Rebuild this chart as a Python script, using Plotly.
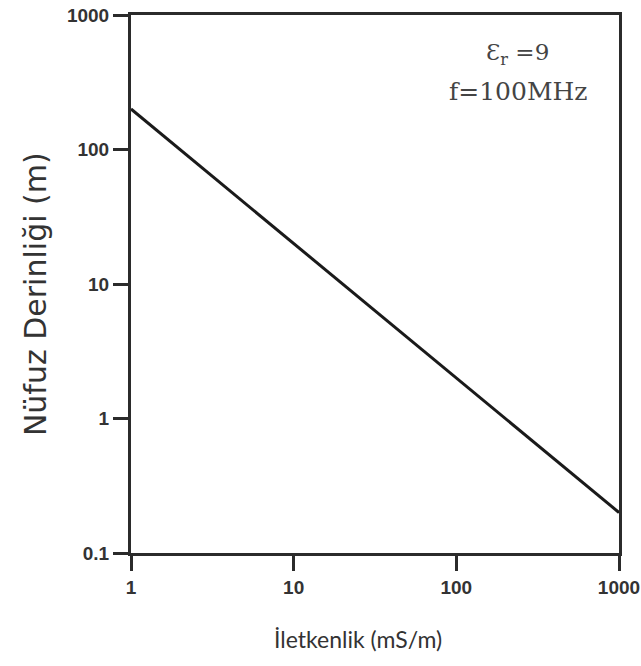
import plotly.graph_objects as go

# Skin depth vs. conductivity (eps_r = 9, f = 100 MHz)
conductivity = [1, 10, 100, 1000]          # mS/m
skin_depth = [200, 20, 2, 0.2]             # m

x_ticks = [1, 10, 100, 1000]
y_ticks = [0.1, 1, 10, 100, 1000]
y_tick_text = ["0.1", "1", "10", "100", "1000"]

axis_color = "#2b2b2b"
text_color = "#333333"
tick_font = dict(family="Liberation Sans", size=19, color="#333", weight="bold")

fig = go.Figure()
fig.add_trace(go.Scatter(
    x=conductivity, y=skin_depth, mode="lines",
    line=dict(color="#1a1a1a", width=3), showlegend=False,
))

common = dict(
    type="log", ticks="outside", ticklen=15, tickwidth=3, tickcolor=axis_color,
    showline=True, linewidth=3, linecolor=axis_color, mirror=True,
    showgrid=False, zeroline=False, tickfont=tick_font, automargin=False,
)
fig.update_xaxes(range=[0, 3], tickvals=x_ticks,
                 ticktext=[str(v) for v in x_ticks], **common)
fig.update_yaxes(range=[-1, 3], tickvals=y_ticks,
                 ticktext=y_tick_text, **common)

# axis titles
fig.add_annotation(
    x=0.466, y=0, xref="paper", yref="paper", yshift=-86,
    text="İletkenlik (mS/m)", showarrow=False,
    font=dict(family="Lato", size=23, color=text_color),
    xanchor="center", yanchor="middle",
)
fig.add_annotation(
    x=-0.197, y=0.481, xref="paper", yref="paper",
    text="Nüfuz Derinliği (m)", showarrow=False, textangle=-90,
    font=dict(family="DejaVu Sans", size=30, color=text_color),
    xanchor="center", yanchor="middle",
)

# parameter labels
fig.add_annotation(
    x=0.793, y=1, xref="paper", yref="paper", yshift=-39,
    text="Ɛ<sub>r</sub> =9", showarrow=False,
    font=dict(family="DejaVu Serif", size=23, color="#444"),
    xanchor="center", yanchor="middle",
)
fig.add_annotation(
    x=0.795, y=1, xref="paper", yref="paper", yshift=-76,
    text="f=100MHz", showarrow=False,
    font=dict(family="DejaVu Serif", size=25, color="#444"),
    xanchor="center", yanchor="middle",
)

fig.update_layout(
    width=641, height=666,
    margin=dict(l=131, r=22, t=15, b=113),
    paper_bgcolor="white", plot_bgcolor="white",
)

fig.write_html("out.html")
